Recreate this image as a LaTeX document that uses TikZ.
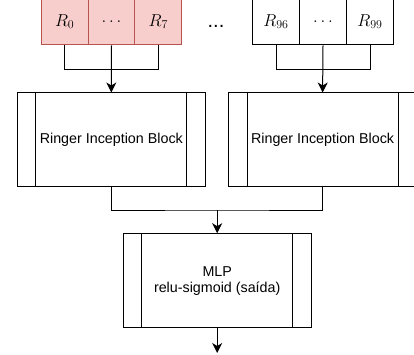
\documentclass[tikz,border=0pt]{standalone}
\usepackage[no-math]{fontspec}
\setmainfont{Liberation Sans}
\usetikzlibrary{arrows.meta}

\definecolor{cellfill}{HTML}{F8CECC}
\definecolor{celldraw}{HTML}{B85450}

\tikzset{
  cell/.style={draw, line width=1pt, minimum width=47pt, minimum height=47pt,
    inner sep=0pt, font=\fontsize{17}{19}\selectfont},
  redcell/.style={cell, draw=celldraw, fill=cellfill},
  process/.style={draw, line width=1pt, minimum width=188pt, minimum height=94pt,
    inner sep=0pt, align=center, font=\fontsize{14.3}{16}\selectfont,
    path picture={
      \draw[line width=1pt] ([xshift=18.5pt]path picture bounding box.south west)
        -- ([xshift=18.5pt]path picture bounding box.north west);
      \draw[line width=1pt] ([xshift=-18.5pt]path picture bounding box.south east)
        -- ([xshift=-18.5pt]path picture bounding box.north east);
    }},
  conn/.style={line width=1pt},
  arr/.style={conn, -{Stealth[length=10pt,width=10pt,inset=3pt]}}
}

\begin{document}
\begin{tikzpicture}[x=1pt,y=-1pt]
  \useasboundingbox (0,0) rectangle (414,355);

  % aneis de entrada
  \node[redcell] (r0)    at (64.7,21.5)  {$R_0$};
  \node[redcell] (rd0)   at (111.5,21.5) {$\dots$};
  \node[redcell] (r7)    at (158.3,21.5) {$R_7$};
  \node[font=\fontsize{20}{22}\selectfont] (gap) at (216,26) {...};
  \node[cell]    (r96)   at (276,21.5)   {$R_{96}$};
  \node[cell]    (rd1)   at (323,21.5)   {$\dots$};
  \node[cell]    (r99)   at (370,21.5)   {$R_{99}$};

  % blocos
  \node[process] (ringA) at (111.3,140) {Ringer Inception Block};
  \node[process] (ringB) at (322.6,140) {Ringer Inception Block};
  \node[process] (mlp)   at (217.2,280.7) {MLP\\relu-sigmoid (saída)};

  % ligacoes
  \draw[conn] (r0.south) -- ++(0,24) -| (r7.south);
  \draw[arr] (rd0.south) -- (ringA.north);
  \draw[conn] (r96.south) -- ++(0,24) -| (r99.south);
  \draw[arr] (rd1.south) -- (ringB.north);

  \coordinate (join) at (217.2,210);
  \draw[conn] (ringA.south) |- (join) -| (ringB.south);
  \draw[arr] (join) -- (mlp.north);

  \coordinate (out) at (217.2,353);
  \draw[arr] (mlp.south) -- (out);
\end{tikzpicture}
\end{document}
